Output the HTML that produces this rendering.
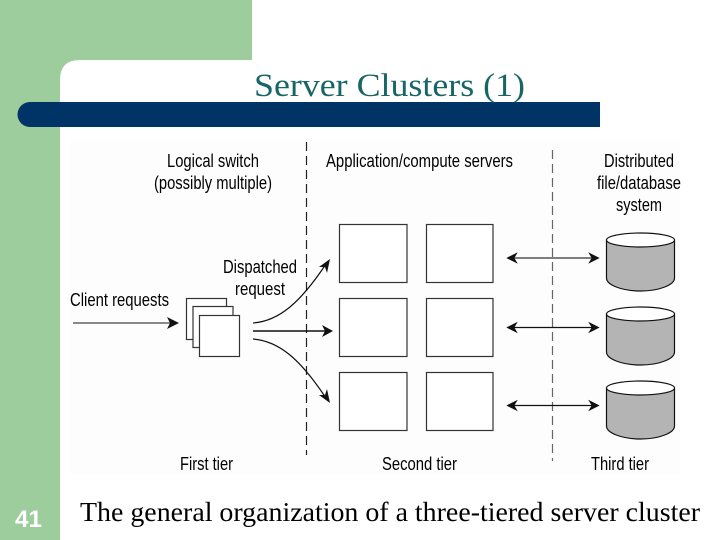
<!DOCTYPE html>
<html><head><meta charset="utf-8"><style>
html,body{margin:0;padding:0;background:#fff;width:720px;height:540px;overflow:hidden}
svg{display:block}
.t{font-family:"Liberation Sans",sans-serif;font-size:18px;fill:#000}
</style></head><body>
<svg width="720" height="540" viewBox="0 0 720 540" xmlns="http://www.w3.org/2000/svg">
<defs>
<g id="cyl">
<path d="M606.5 7V45C606.5 52 622 58 640.5 58S674.5 52 674.5 45V7Z" fill="#b4b4b4" stroke="#111" stroke-width="1.2"/>
<ellipse cx="640.5" cy="7" rx="34" ry="7" fill="#fff" stroke="#111" stroke-width="1.2"/>
</g>
<path id="dbl" d="M507 0L517 -5L514 0L517 5ZM599 0L589 -5L592 0L589 5Z" fill="#111" stroke="#111" stroke-width=".6"/>
</defs>
<path d="M0 0H252V60H80Q60 60 60 80V540H0Z" fill="#9dcd9d"/>
<rect x="70" y="140" width="610" height="334" fill="#fdfdfd"/>
<path d="M30 102H600V127H30A12.500 12.500 0 0 1 30 102Z" fill="#003366"/>
<text x="254" y="96" font-family="'Liberation Serif',serif" font-size="33" fill="#176565" textLength="271" lengthAdjust="spacingAndGlyphs">Server Clusters (1)</text>

<line x1="306.500" y1="142" x2="306.500" y2="455" stroke="#222" stroke-width="1.200" stroke-dasharray="9 5"/>
<line x1="552.500" y1="150" x2="552.500" y2="461" stroke="#666" stroke-width="1.200" stroke-dasharray="9 5"/>

<g fill="#fff" stroke="#333" stroke-width="1.200">
<rect x="339.500" y="224.500" width="67.500" height="58"/>
<rect x="426.500" y="224.500" width="66.500" height="58"/>
<rect x="339.500" y="298.500" width="67.500" height="58"/>
<rect x="426.500" y="298.500" width="66.500" height="58"/>
<rect x="339.500" y="372.500" width="67.500" height="58"/>
<rect x="426.500" y="372.500" width="66.500" height="58"/>
<rect x="186.500" y="298.500" width="40" height="41"/>
<rect x="193" y="306.500" width="40" height="41"/>
<rect x="199.500" y="315.500" width="40" height="41"/>
</g>

<use href="#cyl" y="233"/>
<use href="#cyl" y="307"/>
<use href="#cyl" y="381"/>

<g stroke="#111" stroke-width="1.200" fill="none">
<line x1="510" y1="258" x2="596" y2="258" stroke="#555" stroke-width="1.500"/>
<line x1="510" y1="327.500" x2="596" y2="327.500"/>
<line x1="510" y1="405.500" x2="596" y2="405.500"/>
<line x1="73" y1="323" x2="172" y2="323" stroke="#444"/>
<line x1="253" y1="331" x2="326" y2="331" stroke-width="1.400"/>
<path d="M253 323C279 321 300 303 326 264"/>
<path d="M253 339C279 341 300 359 326 398"/>
</g>
<use href="#dbl" y="258"/>
<use href="#dbl" y="327.500"/>
<use href="#dbl" y="405.500"/>
<g fill="#111">
<path d="M179 323L167 317L170 323L167 329Z"/>
<path d="M333 331L322 325L325 331L322 337Z"/>
<path d="M330 259L319 267L325 267L327 273Z"/>
<path d="M330 403L319 395L325 395L327 389Z"/>
</g>

<text class="t" x="167" y="167" textLength="92" lengthAdjust="spacingAndGlyphs">Logical switch</text>
<text class="t" x="154" y="189" textLength="118" lengthAdjust="spacingAndGlyphs">(possibly multiple)</text>
<text class="t" x="326" y="167" textLength="187" lengthAdjust="spacingAndGlyphs">Application/compute servers</text>
<text class="t" x="604" y="167" textLength="70" lengthAdjust="spacingAndGlyphs">Distributed</text>
<text class="t" x="597" y="189" textLength="84" lengthAdjust="spacingAndGlyphs">file/database</text>
<text class="t" x="616" y="211" textLength="46" lengthAdjust="spacingAndGlyphs">system</text>
<text class="t" x="223" y="273" textLength="74" lengthAdjust="spacingAndGlyphs">Dispatched</text>
<text class="t" x="235" y="295" textLength="50" lengthAdjust="spacingAndGlyphs">request</text>
<text class="t" x="70" y="306" textLength="99" lengthAdjust="spacingAndGlyphs">Client requests</text>
<text class="t" x="180" y="470" textLength="53" lengthAdjust="spacingAndGlyphs">First tier</text>
<text class="t" x="382" y="470" textLength="75" lengthAdjust="spacingAndGlyphs">Second tier</text>
<text class="t" x="591" y="470" textLength="58" lengthAdjust="spacingAndGlyphs">Third tier</text>

<text x="80" y="521" font-family="'Liberation Serif',serif" font-size="27" fill="#000" textLength="620" lengthAdjust="spacingAndGlyphs">The general organization of a three-tiered server cluster</text>
<text x="15" y="527" font-family="'Liberation Sans',sans-serif" font-size="24" font-weight="bold" fill="#fff" textLength="27" lengthAdjust="spacingAndGlyphs">41</text>
</svg>
</body></html>
